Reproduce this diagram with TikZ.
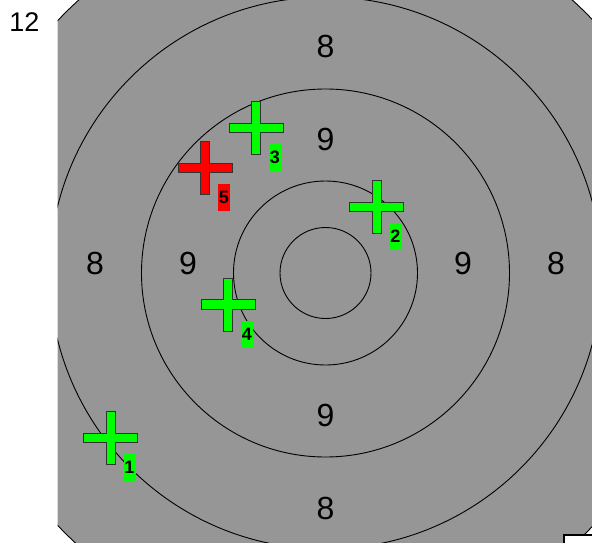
\documentclass[tikz,border=0pt]{standalone}
\usepackage{fontspec}
\setmainfont{Liberation Sans}
\definecolor{targetgray}{RGB}{150,150,150}
\definecolor{hitgreen}{RGB}{0,255,0}
\definecolor{hitred}{RGB}{255,0,0}

\begin{document}
\begin{tikzpicture}[
    x=1pt, y=-1pt,
    ringline/.style={draw=black, line width=0.9pt},
    ringnum/.style={font=\fontsize{32}{36}\selectfont, text=black, inner sep=0pt},
    shotlab/.style={
      rectangle, minimum width=12pt, minimum height=27pt,
      inner sep=0pt, font=\fontsize{18}{20}\selectfont\bfseries, text=black,
    },
  ]
  \useasboundingbox (0,0) rectangle (592,543);

  % --- Target number ---
  \node[font=\fontsize{27}{30}\selectfont, inner sep=0pt] (tnum) at (24.5,22) {12};

  % --- Target face, clipped to the sheet ---
  \begin{scope}
    \clip (57.5,0) rectangle (592,543);
    \coordinate (ctr) at (325.5,273);
    \fill[targetgray] (ctr) circle[radius=368];
    \draw[ringline] (ctr) circle[radius=368];
    \foreach \r in {276, 184, 92, 45.5} {
      \draw[ringline] (ctr) circle[radius=\r];
    }
    % corner of the next sheet
    \draw[fill=white, line width=2pt] (563.5,535) rectangle (610,560);
  \end{scope}

  % --- Ring numbers ---
  \foreach \nid/\x/\y/\val in {t8/325.5/46.5/8, l8/95/263/8, r8/556/263/8, b8/325.5/508/8,
                              t9/325.5/139.5/9, l9/188/263/9, r9/463/263/9, b9/325.5/415/9} {
    \node[ringnum] (n\nid) at (\x,\y) {\val};
  }

  % --- Shots ---
  \foreach \sid/\x/\y/\col in {1/110.5/438/hitgreen, 2/376.5/207/hitgreen, 3/256/128/hitgreen,
                               4/228/304.5/hitgreen, 5/205/168/hitred} {
    \begin{scope}[shift={(\x,\y)}]
      \filldraw[fill=\col, draw=black!80, line width=0.9pt]
        (-27,-4.8) -- (-4.5,-4.8) -- (-4.5,-26.5) -- (4.5,-26.5) -- (4.5,-4.8) -- (27,-4.8)
        -- (27,4.8) -- (4.5,4.8) -- (4.5,26.5) -- (-4.5,26.5) -- (-4.5,4.8) -- (-27,4.8) -- cycle;
      \node[shotlab, fill=\col] (s\sid) at (19,29.5) {\sid};
    \end{scope}
  }
\end{tikzpicture}
\end{document}
